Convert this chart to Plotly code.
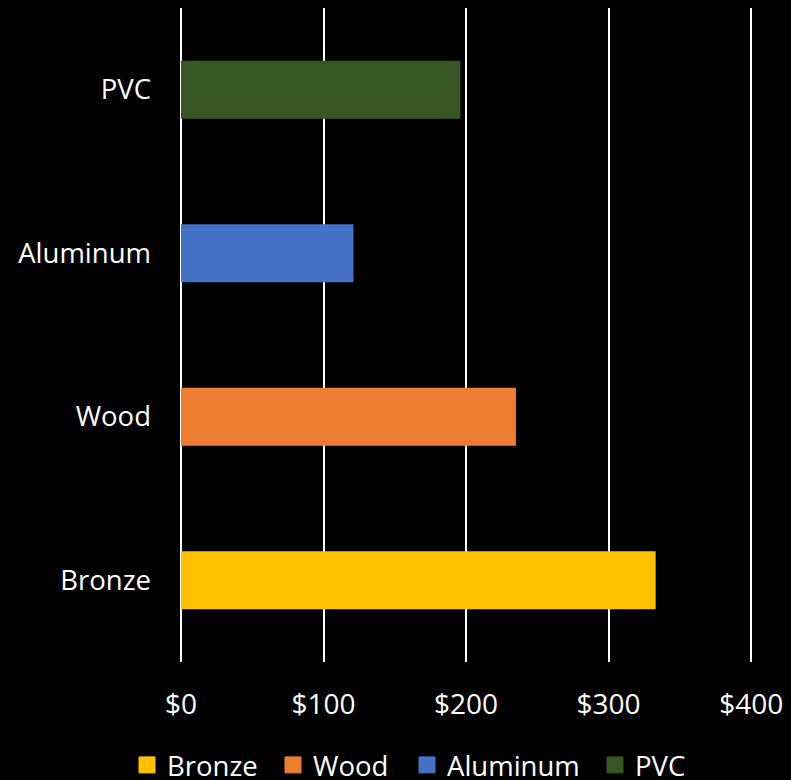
import plotly.graph_objects as go

categories = ["Bronze", "Wood", "Aluminum", "PVC"]
values = [333, 235, 121, 196]
colors = ["#FFC000", "#ED7D31", "#4472C4", "#375623"]
tick_vals = [0, 100, 200, 300, 400]
tick_text = ["$0", "$100", "$200", "$300", "$400"]

FONT = "Open Sans"
legend_names = ["legend", "legend2", "legend3", "legend4"]
legend_x_px = [127, 273, 407, 595]

fig = go.Figure()
for cat, val, col in zip(categories, values, colors):
    fig.add_trace(go.Bar(
        y=[cat], x=[val], name=cat, orientation="h",
        marker=dict(color=col, line=dict(width=0)),
        width=0.356, showlegend=False,
    ))
for cat, col, lg in zip(categories, colors, legend_names):
    fig.add_trace(go.Scatter(
        x=[None], y=[None], name=cat, mode="markers",
        marker=dict(symbol="square", size=16, color=col, line=dict(width=1, color=col)),
        showlegend=True, legend=lg, hoverinfo="skip",
    ))

legend_common = dict(
    orientation="h", xref="container", yref="container",
    xanchor="left", y=1 - 765 / 780, yanchor="middle",
    font=dict(family=FONT, size=27.5, color="white"),
    bgcolor="rgba(0,0,0,0)", itemsizing="trace",
)

layout_legends = {}
for lg, px in zip(legend_names, legend_x_px):
    layout_legends[lg] = dict(legend_common, x=px / 791)

fig.update_layout(
    width=791, height=780,
    paper_bgcolor="black", plot_bgcolor="black",
    barmode="relative",
    margin=dict(l=181, r=37, t=8, b=118, autoexpand=False),
    font=dict(family=FONT, size=27.5, color="white"),
    xaxis=dict(
        range=[0, 402], tickvals=tick_vals, ticktext=tick_text,
        showgrid=True, gridcolor="white", gridwidth=1.5,
        zeroline=True, zerolinecolor="white", zerolinewidth=1.5,
        showline=False, ticks="", ticklabelstandoff=23,
        tickfont=dict(family=FONT, size=28, color="white"),
        fixedrange=True, automargin=False,
    ),
    yaxis=dict(
        categoryorder="array", categoryarray=categories,
        showgrid=False, zeroline=False, showline=False, ticks="",
        ticklabelstandoff=29, automargin=False,
        tickfont=dict(family=FONT, size=27.5, color="white"),
        range=[-0.5, 3.5], fixedrange=True,
    ),
    **layout_legends,
)

fig.write_html(
    "out.html",
    config={"displayModeBar": False},
    post_script="document.body.style.margin='0';document.body.style.background='black';",
)
